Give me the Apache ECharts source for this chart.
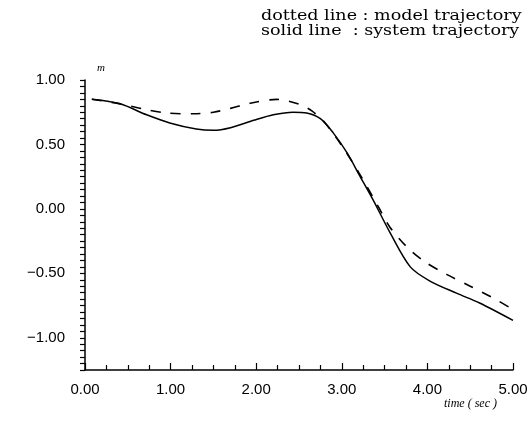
<!DOCTYPE html>
<html>
<head>
<meta charset="utf-8">
<script src="https://cdn.jsdelivr.net/npm/echarts@6/dist/echarts.min.js"></script>
<style>
  html, body { margin: 0; padding: 0; background: #fff; }
  #chart { width: 531px; height: 422px; }
</style>
</head>
<body>
<div id="chart"></div>
<script>
// model trajectory (dashed)
const modelTime = [0.08, 0.41, 0.68, 0.95, 1.27, 1.50, 1.70, 1.93, 2.24, 2.51, 2.65, 2.80, 3.00, 3.20, 3.43, 3.56, 3.76, 3.97, 4.23, 4.50, 4.75, 5.00];
const modelValues = [0.85, 0.815, 0.775, 0.744, 0.738, 0.75, 0.78, 0.82, 0.85, 0.81, 0.76, 0.67, 0.49, 0.28, 0.013, -0.14, -0.295, -0.41, -0.51, -0.60, -0.685, -0.78];

// system trajectory (solid)
const systemTime = [0.08, 0.41, 0.72, 0.99, 1.30, 1.50, 1.70, 1.97, 2.20, 2.43, 2.59, 2.75, 2.90, 3.06, 3.21, 3.37, 3.56, 3.80, 4.03, 4.34, 4.61, 5.00];
const systemValues = [0.85, 0.815, 0.73, 0.667, 0.62, 0.61, 0.63, 0.687, 0.73, 0.75, 0.744, 0.70, 0.59, 0.436, 0.256, 0.064, -0.18, -0.45, -0.56, -0.654, -0.73, -0.865];

const legendLines = ['dotted line : model trajectory', 'solid line  : system trajectory'];

function fmt(v) {
    return v.toFixed(2).replace('-', '\u2212');
}

const chart = echarts.init(document.getElementById('chart'), null, { renderer: 'canvas' });

const option = {
    backgroundColor: '#fff',
    animation: false,
    grid: { left: 85, right: 18, top: 80, bottom: 52 },
    xAxis: {
        type: 'value',
        min: 0,
        max: 5,
        interval: 1,
        axisLine: { onZero: false, lineStyle: { color: '#000', width: 1.5 } },
        axisTick: { inside: true, length: 7, lineStyle: { color: '#000', width: 1.2 } },
        minorTick: { show: true, splitNumber: 4, length: 5, lineStyle: { color: '#000', width: 1.2 } },
        splitLine: { show: false },
        axisLabel: {
            margin: 12,
            color: '#000',
            fontFamily: 'Liberation Sans',
            fontSize: 15,
            formatter: fmt
        }
    },
    yAxis: {
        type: 'value',
        min: -1.25,
        max: 1.0,
        interval: 0.25,
        axisLine: { onZero: false, lineStyle: { color: '#000', width: 1.5 } },
        axisTick: { length: 5, lineStyle: { color: '#000', width: 1.2 } },
        minorTick: { show: true, splitNumber: 5, length: 5, lineStyle: { color: '#000', width: 1.2 } },
        splitLine: { show: false },
        axisLabel: {
            margin: 20,
            color: '#000',
            fontFamily: 'Liberation Sans',
            fontSize: 15,
            formatter: function (v) {
                return Math.abs(v * 2 - Math.round(v * 2)) < 1e-6 ? fmt(v) : '';
            }
        }
    },
    series: [
        {
            type: 'line',
            name: 'model',
            data: modelTime.map((t, i) => [t, modelValues[i]]),
            smooth: 0.3,
            showSymbol: false,
            lineStyle: { color: '#000', width: 1.6, type: [10, 10] }
        },
        {
            type: 'line',
            name: 'system',
            data: systemTime.map((t, i) => [t, systemValues[i]]),
            smooth: 0.3,
            showSymbol: false,
            lineStyle: { color: '#000', width: 1.5 }
        }
    ],
    graphic: [
        {
            type: 'text', x: 261, y: 9, scaleX: 1.17,
            style: { text: legendLines[0], font: '15px "DejaVu Serif"', fill: '#000' }
        },
        {
            type: 'text', x: 261, y: 24, scaleX: 1.17,
            style: { text: legendLines[1], font: '15px "DejaVu Serif"', fill: '#000' }
        },
        {
            type: 'text', left: 97, top: 63,
            style: { text: 'm', font: 'italic 11px "Liberation Serif"', fill: '#000' }
        },
        {
            type: 'text', left: 444, top: 398,
            style: { text: 'time ( sec )', font: 'italic 12px "Liberation Serif"', fill: '#000' }
        }
    ]
};

chart.setOption(option);
</script>
</body>
</html>
